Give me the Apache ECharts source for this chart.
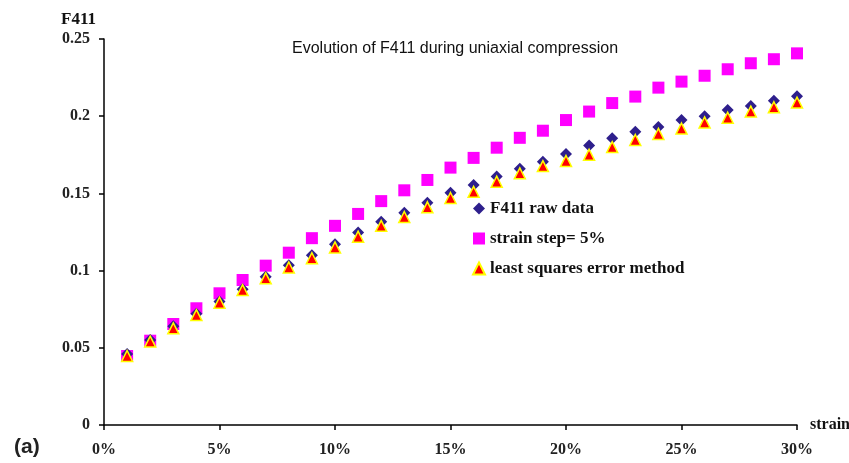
<!DOCTYPE html>
<html>
<head>
<meta charset="utf-8">
<script src="https://cdn.jsdelivr.net/npm/echarts@6/dist/echarts.min.js"></script>
<style>
html,body{margin:0;padding:0;background:#fff;}
#chart{width:849px;height:463px;}
</style>
</head>
<body>
<div id="chart"></div>
<script>
// strain values in percent
const strain = [1,2,3,4,5,6,7,8,9,10,11,12,13,14,15,16,17,18,19,20,21,22,23,24,25,26,27,28,29,30];
const rawData = [0.046,0.055,0.064,0.072,0.080,0.088,0.096,0.1035,0.110,0.117,0.1246,0.1317,0.1375,0.144,0.1505,0.1554,0.161,0.166,0.1705,0.1755,0.181,0.1857,0.190,0.193,0.1975,0.200,0.204,0.2066,0.210,0.213];
const strainStep = [0.0447,0.0546,0.0654,0.0756,0.0853,0.0939,0.1032,0.1116,0.121,0.129,0.1367,0.145,0.152,0.1587,0.1667,0.173,0.1796,0.186,0.1906,0.1975,0.203,0.2085,0.2127,0.2185,0.2224,0.2262,0.2304,0.2343,0.2369,0.2407];
const leastSquares = [0.0447,0.054,0.0626,0.0712,0.0792,0.0874,0.095,0.102,0.108,0.115,0.122,0.129,0.1347,0.141,0.147,0.151,0.1576,0.163,0.1677,0.171,0.175,0.180,0.1846,0.1885,0.192,0.196,0.199,0.203,0.2058,0.2088];
const xTicks = [0,5,10,15,20,25,30];
const yTicks = [0,0.05,0.1,0.15,0.2,0.25];
const seriesNames = ['F411 raw data','strain step= 5%','least squares error method'];

const pair = arr => strain.map((s,i)=>[s, arr[i]]);
const serif = '"Liberation Serif","DejaVu Serif",serif';
const sans = '"Liberation Sans",Arial,sans-serif';

const chart = echarts.init(document.getElementById('chart'));
chart.setOption({
  animation:false,
  backgroundColor:'#fff',
  title:{
    text:'Evolution of F411 during uniaxial compression',
    left:287, top:36,
    textStyle:{fontFamily:sans, fontSize:16, fontWeight:'normal', color:'#111'}
  },
  legend:{
    data:seriesNames,
    orient:'vertical',
    left:467, top:195,
    itemWidth:12, itemHeight:12, itemGap:13,
    textStyle:{fontFamily:serif, fontSize:17, fontWeight:'bold', color:'#111'}
  },
  grid:{left:104, right:52, top:39, bottom:38, outerBoundsMode:'none', containLabel:false},
  xAxis:{
    type:'value', min:0, max:30, interval:5,
    name:'strain', nameLocation:'end', nameGap:13,
    nameTextStyle:{fontFamily:serif, fontSize:16, fontWeight:'bold', color:'#111', verticalAlign:'middle', padding:[0,0,9,0]},
    axisLine:{lineStyle:{color:'#000', width:1.5}},
    axisTick:{show:true, length:5, lineStyle:{color:'#000', width:1.5}},
    axisLabel:{formatter:v=>xTicks.includes(v)?v+'%':'', fontFamily:serif, fontSize:16, fontWeight:'bold', color:'#222', margin:17},
    splitLine:{show:false}
  },
  yAxis:{
    type:'value', min:0, max:0.25, interval:0.05,
    name:'F411', nameLocation:'end', nameGap:11,
    nameTextStyle:{fontFamily:serif, fontSize:17, fontWeight:'bold', color:'#111', align:'right', padding:[0,8,0,0]},
    axisLine:{show:true, lineStyle:{color:'#000', width:1.5}},
    axisTick:{show:true, length:5, lineStyle:{color:'#000', width:1.5}},
    axisLabel:{formatter:v=>{const t=yTicks.find(x=>Math.abs(x-v)<1e-9);return t===undefined?'':String(t);}, fontFamily:serif, fontSize:16, fontWeight:'bold', color:'#222', margin:14},
    splitLine:{show:false}
  },
  graphic:[{
    type:'text', left:14, top:437,
    style:{text:'(a)', font:'bold 21px '+sans, fill:'#222'}
  }],
  series:[
    {name:seriesNames[1], type:'scatter', data:pair(strainStep), symbol:'rect', symbolSize:12, z:2,
     itemStyle:{color:'#FF00FF', opacity:1}},
    {name:seriesNames[0], type:'scatter', data:pair(rawData), symbol:'diamond', symbolSize:12, z:3,
     itemStyle:{color:'#2E1F8C', opacity:1}},
    {name:seriesNames[2], type:'scatter', data:pair(leastSquares), symbol:'triangle', symbolSize:11, z:4,
     itemStyle:{color:'#FF0000', borderColor:'#FFFF00', borderWidth:1.5, opacity:1}}
  ]
});
</script>
</body>
</html>
